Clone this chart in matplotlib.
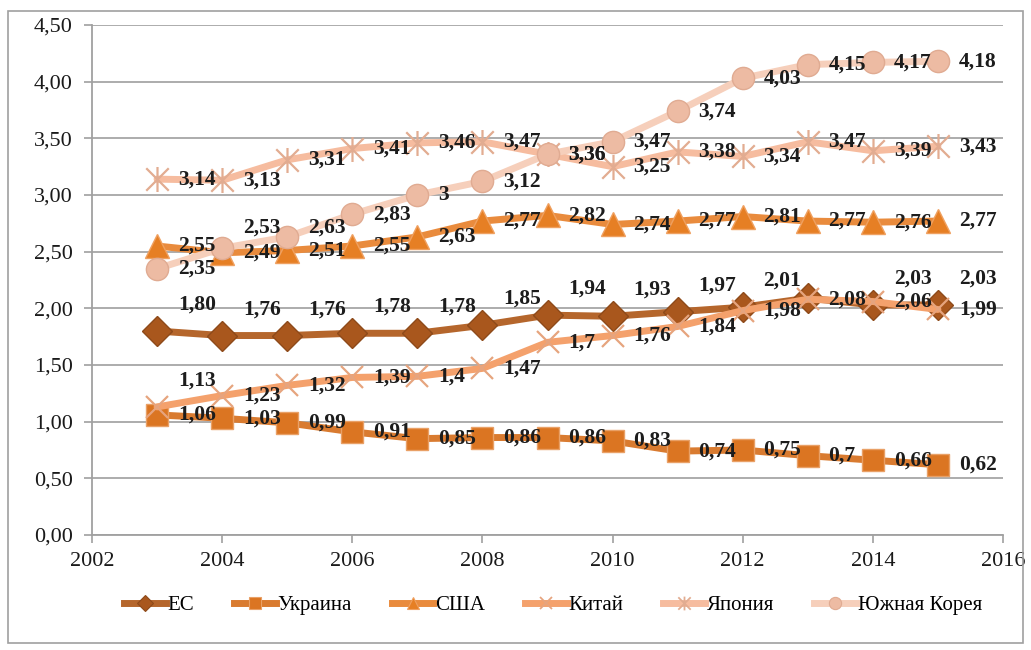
import matplotlib
matplotlib.use("Agg")
import matplotlib.pyplot as plt
from matplotlib.path import Path
from matplotlib.patches import Rectangle
from matplotlib.lines import Line2D

plt.rcParams['font.family'] = ['Liberation Serif', 'DejaVu Serif']

years = [2003, 2004, 2005, 2006, 2007, 2008, 2009, 2010, 2011, 2012, 2013, 2014, 2015]

eu = [1.80, 1.76, 1.76, 1.78, 1.78, 1.85, 1.94, 1.93, 1.97, 2.01, 2.09, 2.03, 2.03]
ukraine = [1.06, 1.03, 0.99, 0.91, 0.85, 0.86, 0.86, 0.83, 0.74, 0.75, 0.70, 0.66, 0.62]
usa = [2.55, 2.49, 2.51, 2.55, 2.63, 2.77, 2.82, 2.74, 2.77, 2.81, 2.77, 2.76, 2.77]
china = [1.13, 1.23, 1.32, 1.39, 1.40, 1.47, 1.70, 1.76, 1.84, 1.98, 2.08, 2.06, 1.99]
japan = [3.14, 3.13, 3.31, 3.41, 3.46, 3.47, 3.36, 3.25, 3.38, 3.34, 3.47, 3.39, 3.43]
korea = [2.35, 2.53, 2.63, 2.83, 3.00, 3.12, 3.36, 3.47, 3.74, 4.03, 4.15, 4.17, 4.18]

series_names = ['ЕС', 'Украина', 'США', 'Китай', 'Япония', 'Южная Корея']

yticks = [0.0, 0.5, 1.0, 1.5, 2.0, 2.5, 3.0, 3.5, 4.0, 4.5]
xticks = [2002, 2004, 2006, 2008, 2010, 2012, 2014, 2016]

# asterisk marker (Excel "star")
ast = Path([(0, -0.5), (0, 0.5), (-0.45, -0.45), (0.45, 0.45), (-0.45, 0.45), (0.45, -0.45)],
           [Path.MOVETO, Path.LINETO, Path.MOVETO, Path.LINETO, Path.MOVETO, Path.LINETO])

styles = [
    dict(color='#B5662C', marker='D', ms=15, mfc='#A9571D', mec='#8E4A1A', mew=1.0, fmt='{:.2f}'),
    dict(color='#D97B30', marker='s', ms=16, mfc='#DB7522', mec='#E9A066', mew=1.0, fmt='{:g}'),
    dict(color='#E98B3D', marker='^', ms=17, mfc='#E67F24', mec='#EFA060', mew=1.0, fmt='{:g}'),
    dict(color='#F4A16C', marker='x', ms=16, mfc='none', mec='#E6A47E', mew=1.6, fmt='{:g}'),
    dict(color='#F6BC9F', marker=ast, ms=18, mfc='none', mec='#E2AC91', mew=1.6, fmt='{:g}'),
    dict(color='#F6CFBB', marker='o', ms=16, mfc='#EDBBA3', mec='#E0AB92', mew=1.0, fmt='{:g}'),
]

# label vertical offsets in points (default centred)
label_dy = {0: {i: 19 for i in range(13)}, 3: {0: 19}, 5: {1: 15, 2: 6.5}}
label_skip = {0: [10]}

fig = plt.figure(figsize=(10.31, 6.5), dpi=100)
ax = fig.add_axes([92/1031, 1-535/650, (1003-92)/1031, (535-25)/650])

all_series = [eu, ukraine, usa, china, japan, korea]
for k, (vals, st) in enumerate(zip(all_series, styles)):
    ax.plot(years, vals, color=st['color'], lw=5, solid_joinstyle='round', solid_capstyle='round',
            marker=st['marker'], ms=st['ms'], mfc=st['mfc'], mec=st['mec'], mew=st['mew'],
            zorder=3 + k)

for k, (vals, st) in enumerate(zip(all_series, styles)):
    for i, (x, v) in enumerate(zip(years, vals)):
        if i in label_skip.get(k, []):
            continue
        dy = label_dy.get(k, {}).get(i, 0)
        ax.annotate(st['fmt'].format(v).replace('.', ','), (x, v), xytext=(15, dy),
                    textcoords='offset points', ha='left', va='center',
                    fontsize=15.5, fontweight='bold', color='#1c1c1c', zorder=20)

ax.set_xlim(2002, 2016)
ax.set_ylim(0, 4.5)
ax.set_yticks(yticks)
ax.set_yticklabels([f'{t:.2f}'.replace('.', ',') for t in yticks])
ax.set_xticks(xticks)
ax.set_xticklabels([str(t) for t in xticks])
ax.tick_params(axis='both', labelsize=16, colors='#A0A0A0', labelcolor='#1a1a1a', length=6, width=1.2,
               direction='out')
ax.tick_params(axis='x', pad=6)
ax.tick_params(axis='y', pad=8)
ax.grid(axis='y', color='#A6A6A6', lw=1.3)
ax.set_axisbelow(True)
for s in ['top', 'right']:
    ax.spines[s].set_visible(False)
for s in ['left', 'bottom']:
    ax.spines[s].set_color('#A0A0A0')
    ax.spines[s].set_linewidth(1.3)

handles = [Line2D([0], [0], color=st['color'], lw=5, marker=st['marker'], ms=st['ms'] * 0.55,
                  mfc=st['mfc'], mec=st['mec'], mew=st['mew'] * 0.8) for st in styles]
fig.legend(handles, series_names, loc='center', bbox_to_anchor=(553/1031, 1-605/650), ncol=6,
           frameon=False, fontsize=15, handlelength=2.0, handletextpad=0.1, columnspacing=1.9)

fig.patches.append(Rectangle((8/1031, 1-643/650), (1023-8)/1031, (643-11)/650, transform=fig.transFigure,
                             fill=False, edgecolor='#A0A0A0', lw=1.2))

fig.savefig('out.png', dpi=100)
